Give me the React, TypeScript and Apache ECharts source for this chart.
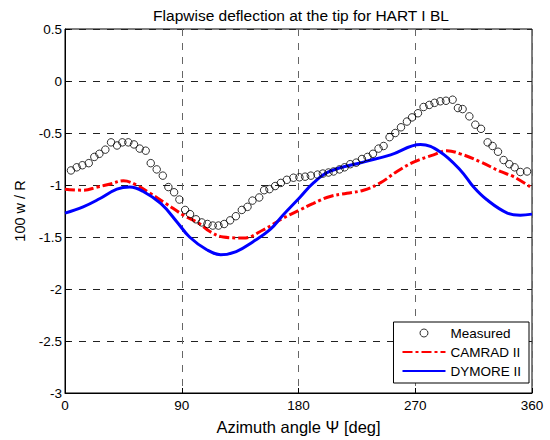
import React, { useEffect, useRef } from "react";
import * as echarts from "echarts";

const titleText = "Flapwise deflection at the tip for HART I BL";
const xName = "Azimuth angle \u03A8 [deg]";
const yName = "100 w / R";
const xTicks = [0, 90, 180, 270, 360];
const yTicks = [-3, -2.5, -2, -1.5, -1, -0.5, 0, 0.5];

const measuredX = [4.6, 9, 13.4, 18.3, 22.6, 26.5, 31.1, 35.5, 40.1, 44.2, 48.8, 53.2, 57.6, 62.2, 66.1, 70.7, 75.4, 79.7, 84.1, 88.2, 92.6, 96.4, 101, 105.4, 109.8, 113.9, 118.3, 122.7, 127.3, 131.7, 136.3, 140.7, 144.5, 149.7, 153.5, 157.6, 162, 166.4, 171, 176.1, 180.7, 185.1, 189.5, 194.7, 198.8, 203.1, 207, 211.6, 215.5, 219.9, 224.5, 228.9, 233.2, 237.4, 241.7, 245.6, 250.2, 254.6, 259, 263.6, 267.5, 272.1, 276.4, 280.8, 284.9, 289.3, 293.7, 298.8, 302.9, 306.5, 311.7, 316.3, 320.7, 325.8, 329.6, 333.8, 338.1, 342.5, 346.6, 351, 356.2];
const measuredY = [-0.86, -0.83, -0.81, -0.79, -0.73, -0.7, -0.66, -0.59, -0.62, -0.59, -0.59, -0.61, -0.65, -0.67, -0.79, -0.85, -0.91, -1.02, -1.07, -1.14, -1.24, -1.28, -1.33, -1.36, -1.375, -1.39, -1.39, -1.375, -1.34, -1.3, -1.24, -1.21, -1.15, -1.12, -1.05, -1.04, -1.01, -0.98, -0.95, -0.93, -0.926, -0.92, -0.91, -0.9, -0.89, -0.88, -0.87, -0.85, -0.83, -0.8, -0.785, -0.75, -0.73, -0.7, -0.65, -0.625, -0.54, -0.5, -0.445, -0.39, -0.35, -0.31, -0.25, -0.23, -0.21, -0.195, -0.19, -0.18, -0.26, -0.27, -0.34, -0.42, -0.46, -0.59, -0.625, -0.68, -0.76, -0.8, -0.83, -0.875, -0.87];

const camradX = [0, 14, 25, 35, 45, 55, 65.6, 78, 91.3, 104, 112, 122, 137.5, 153, 168, 181, 191.5, 204.4, 217.3, 230.1, 243, 255.9, 268.7, 284.1, 294.5, 304.7, 320.1, 335.6, 345.8, 360];
const camradY = [-1.04, -1.05, -1.02, -0.99, -0.96, -1.0, -1.08, -1.18, -1.29, -1.375, -1.45, -1.5, -1.51, -1.43, -1.32, -1.24, -1.176, -1.11, -1.08, -1.05, -0.98, -0.87, -0.78, -0.71, -0.67, -0.7, -0.776, -0.87, -0.92, -1.03];

const dymoreX = [0, 14, 27, 40, 50, 60, 74, 86, 96, 109, 120, 132, 145, 158, 168, 181, 191.5, 204, 230, 251, 274, 289, 305, 315, 325, 341, 351, 360];
const dymoreY = [-1.27, -1.21, -1.13, -1.04, -1.02, -1.06, -1.18, -1.35, -1.5, -1.62, -1.67, -1.64, -1.545, -1.43, -1.29, -1.12, -0.98, -0.87, -0.78, -0.71, -0.61, -0.68, -0.86, -1.02, -1.14, -1.27, -1.29, -1.28];

const FONT = "'Liberation Sans', Arial, sans-serif";

export default function App() {
  const ref = useRef<HTMLDivElement>(null);
  useEffect(() => {
    if (!ref.current) return;
    const chart = echarts.init(ref.current, undefined, { renderer: "svg" });
    const zip = (xs: number[], ys: number[]) => xs.map((x, i) => [x, ys[i]]);
    const hidden = { color: "rgba(0,0,0,0)", borderColor: "rgba(0,0,0,0)", borderWidth: 0, opacity: 0 };
    chart.setOption({
      animation: false,
      backgroundColor: "#fff",
      title: {
        text: titleText,
        left: 296,
        textAlign: "center",
        top: 2,
        textStyle: { fontFamily: FONT, fontSize: 15.5, fontWeight: "normal", color: "#000" },
      },
      grid: {
        left: 65,
        right: 18,
        top: 29,
        bottom: 46,
        show: true,
        borderColor: "#000",
        borderWidth: 1,
        backgroundColor: "#fff",
      },
      xAxis: {
        type: "value",
        min: 0,
        max: 360,
        interval: 90,
        name: xName,
        nameLocation: "middle",
        nameGap: 25,
        nameTextStyle: { fontFamily: FONT, fontSize: 16.5, color: "#000" },
        axisLine: { onZero: false, lineStyle: { color: "#000", width: 1 } },
        axisTick: { inside: true, length: 5, lineStyle: { color: "#000" } },
        axisLabel: {
          fontFamily: FONT,
          fontSize: 13.5,
          color: "#000",
          margin: 5,
          formatter: (v: number) => (xTicks.includes(v) ? String(v) : ""),
        },
        splitLine: { show: true, lineStyle: { color: "#666", type: [7, 7], width: 1 } },
      },
      yAxis: {
        type: "value",
        min: -3,
        max: 0.5,
        interval: 0.5,
        name: yName,
        nameLocation: "middle",
        nameGap: 36,
        nameTextStyle: { fontFamily: FONT, fontSize: 14.5, color: "#000" },
        axisLine: { show: true, onZero: false, lineStyle: { color: "#000", width: 1 } },
        axisTick: { show: true, inside: true, length: 5, lineStyle: { color: "#000" } },
        axisLabel: {
          fontFamily: FONT,
          fontSize: 13.5,
          color: "#000",
          margin: 3,
          formatter: (v: number) => (yTicks.includes(v) ? String(v) : ""),
        },
        splitLine: { show: true, lineStyle: { color: "#222", type: [7, 7], width: 1 } },
      },
      legend: {
        orient: "vertical",
        right: 21,
        bottom: 57,
        itemWidth: 43,
        itemHeight: 8,
        itemGap: 5,
        padding: [4, 8, 5, 8],
        borderColor: "#000",
        borderWidth: 1,
        backgroundColor: "#fff",
        textStyle: { fontFamily: FONT, fontSize: 13.5, color: "#000" },
        data: [
          { name: "Measured", itemStyle: { borderWidth: 1 } },
          { name: "CAMRAD II", itemStyle: hidden },
          { name: "DYMORE II", itemStyle: hidden },
        ],
      },
      series: [
        {
          name: "CAMRAD II",
          type: "line",
          data: zip(camradX, camradY),
          smooth: 0.4,
          symbol: "none",
          lineStyle: { color: "#ff0000", width: 3, type: [10, 3, 3, 3] },
          itemStyle: { color: "#ff0000" },
          z: 2,
        },
        {
          name: "DYMORE II",
          type: "line",
          data: zip(dymoreX, dymoreY),
          smooth: 0.4,
          symbol: "none",
          lineStyle: { color: "#0000ff", width: 3 },
          itemStyle: { color: "#0000ff" },
          z: 3,
        },
        {
          name: "Measured",
          type: "scatter",
          data: zip(measuredX, measuredY),
          symbol: "circle",
          symbolSize: 7.5,
          itemStyle: { color: "rgba(255,255,255,0)", borderColor: "#000", borderWidth: 1 },
          z: 4,
        },
      ],
    });
    return () => chart.dispose();
  }, []);
  return <div ref={ref} style={{ width: 550, height: 440, position: "absolute", left: 0, top: 0 }} />;
}
